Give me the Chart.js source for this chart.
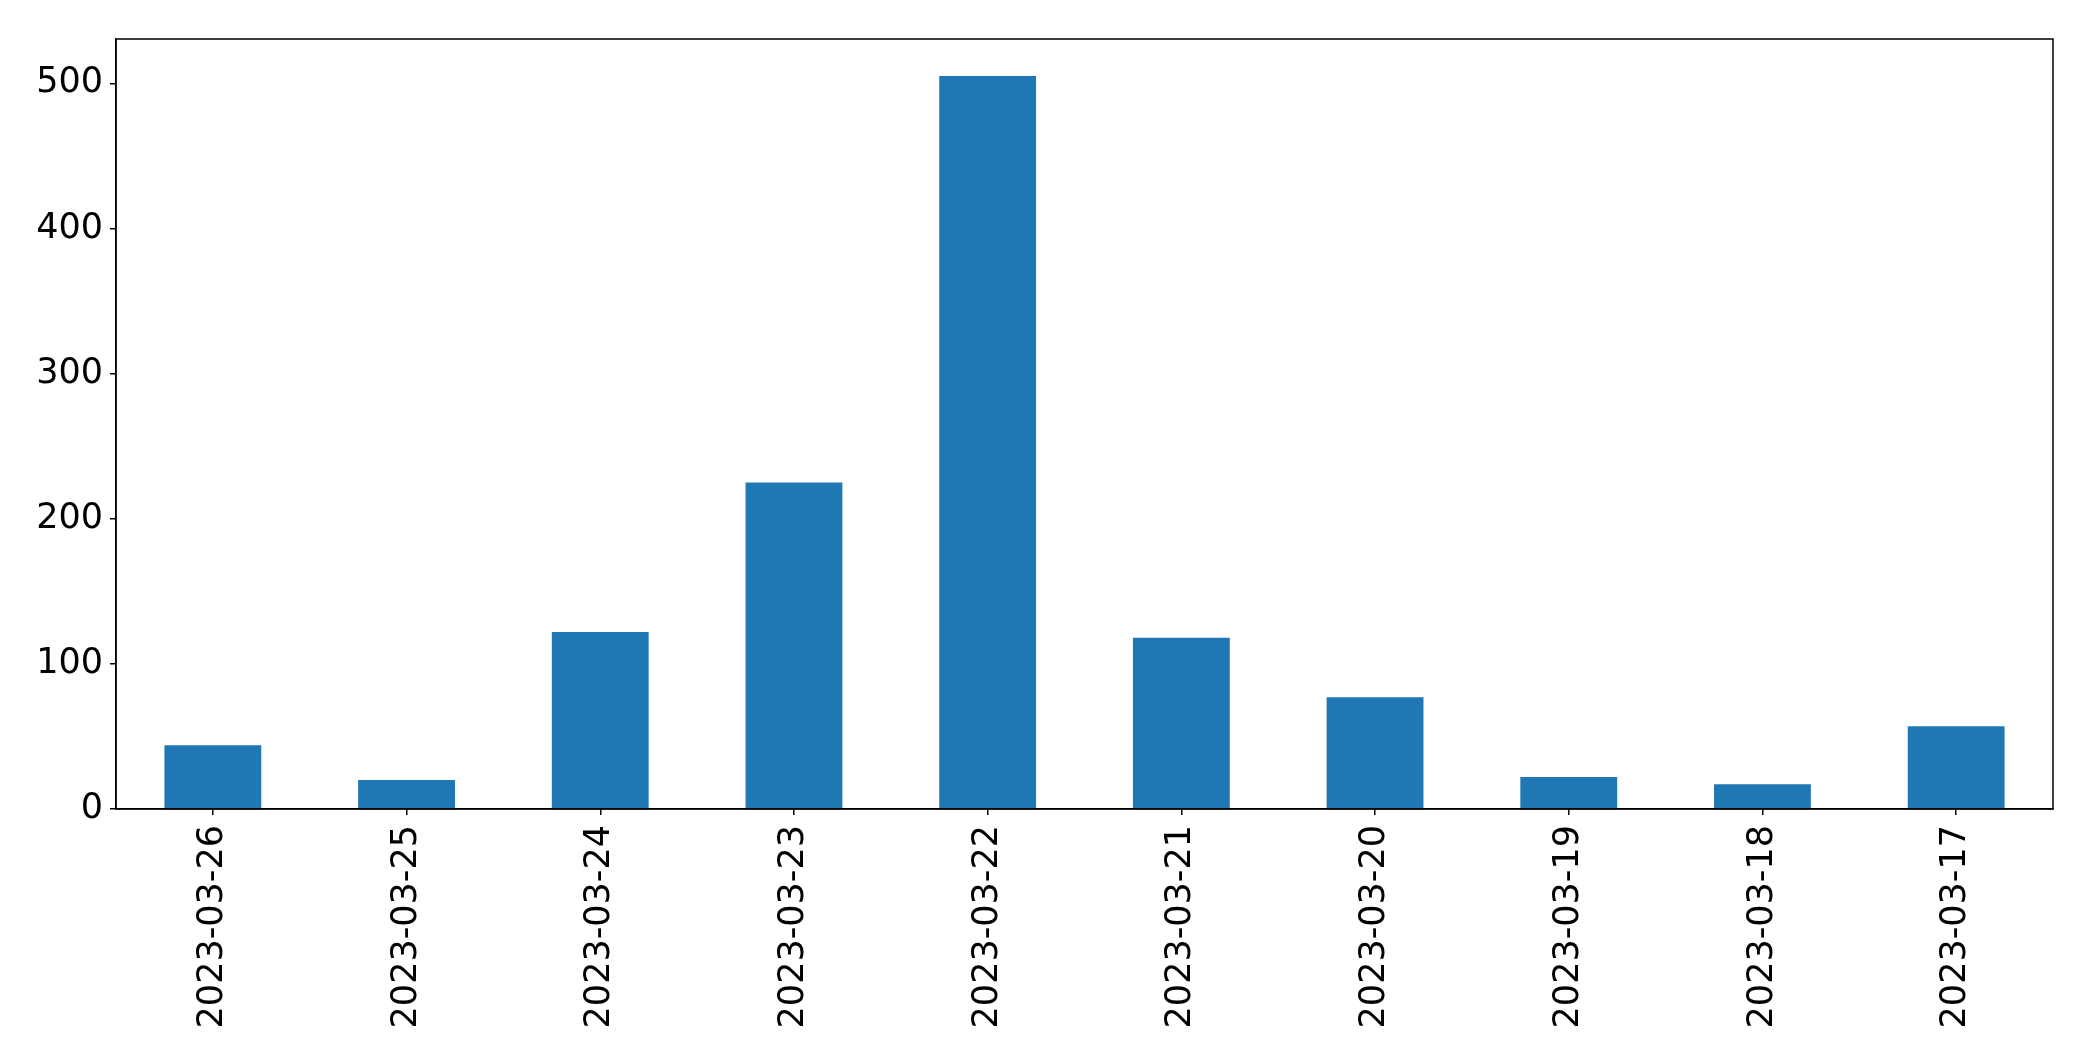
<!DOCTYPE html>
<html>
<head>
<meta charset="utf-8">
<script src="https://cdn.jsdelivr.net/npm/chart.js@4/dist/chart.umd.min.js"></script>
<style>
    html, body { margin: 0; padding: 0; background: #fff; }
    #wrap { width: 2093px; height: 1061px; }
</style>
</head>
<body>
<div id="wrap"><canvas id="chart"></canvas></div>
<script>
// Datos del gráfico
var dates = ['2023-03-26', '2023-03-25', '2023-03-24', '2023-03-23', '2023-03-22',
             '2023-03-21', '2023-03-20', '2023-03-19', '2023-03-18', '2023-03-17'];
var counts = [44, 20, 122, 225, 505, 118, 77, 22, 17, 57];
var yTicks = [0, 100, 200, 300, 400, 500];

var FONT = { family: 'DejaVu Sans', size: 35 };

// Marco negro alrededor del área (como matplotlib)
var frameBox = {
    id: 'frameBox',
    afterDraw: function(chart) {
        var a = chart.chartArea;
        var ctx = chart.ctx;
        ctx.save();
        ctx.strokeStyle = '#000';
        ctx.lineWidth = 1.5;
        ctx.strokeRect(a.left, a.top, a.right - a.left, a.bottom - a.top);
        ctx.restore();
    }
};

var ctx = document.getElementById('chart');
new Chart(ctx, {
    type: 'bar',
    data: {
        labels: dates,
        datasets: [{
            data: counts,
            backgroundColor: '#1f77b4',
            borderWidth: 0,
            barPercentage: 0.5,
            categoryPercentage: 1.0
        }]
    },
    options: {
        responsive: true,
        maintainAspectRatio: false,
        animation: false,
        layout: { padding: { top: 39, right: 40, left: 0, bottom: 0 } },
        plugins: {
            legend: { display: false },
            tooltip: { enabled: false }
        },
        scales: {
            x: {
                offset: true,
                grid: { display: true, offset: false, drawOnChartArea: false, tickLength: 6, color: '#000', lineWidth: 1.5 },
                border: { display: true, color: '#000', width: 1.5 },
                ticks: {
                    color: '#000',
                    font: FONT,
                    padding: 10,
                    minRotation: 90,
                    maxRotation: 90,
                    autoSkip: false
                },
                afterFit: function(scale) { scale.height = 252; }
            },
            y: {
                min: 0,
                max: 530.5,
                afterBuildTicks: function(scale) {
                    scale.ticks = yTicks.map(function(v) { return { value: v }; });
                },
                grid: { display: true, drawOnChartArea: false, tickLength: 6, color: '#000', lineWidth: 1.5 },
                border: { display: true, color: '#000', width: 1.5 },
                ticks: {
                    color: '#000',
                    font: FONT,
                    padding: 7
                },
                afterFit: function(scale) { scale.width = 116; }
            }
        }
    },
    plugins: [frameBox]
});
</script>
</body>
</html>
